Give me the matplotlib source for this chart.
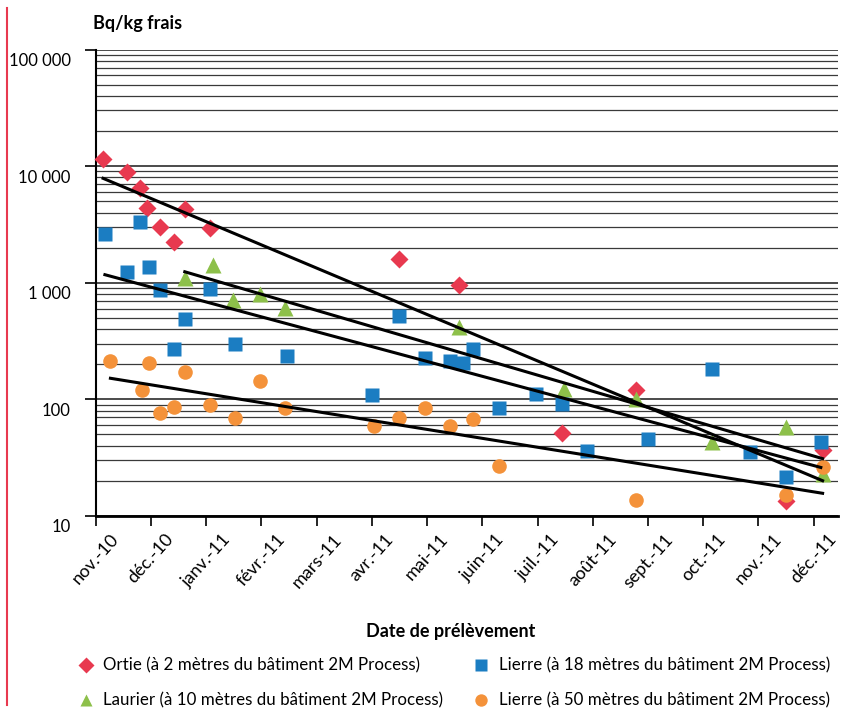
import numpy as np
import pandas as pd
import matplotlib
matplotlib.use("Agg")
import matplotlib.pyplot as plt
from matplotlib.ticker import FixedLocator, NullFormatter
from matplotlib.lines import Line2D
from matplotlib.transforms import ScaledTranslation

plt.rcParams['font.family'] = ['Lato', 'DejaVu Sans']

# ---------------- data ----------------
month_labels = ["nov.-10", "déc.-10", "janv.-11", "févr.-11", "mars-11", "avr.-11", "mai-11",
                "juin-11", "juil.-11", "août-11", "sept.-11", "oct.-11", "nov.-11", "déc.-11"]
ytick_values = [10, 100, 1000, 10000, 100000]
ytick_labels = ["10", "100", "1 000", "10 000", "100 000"]

ortie_dates = ["2010-11-05", "2010-11-18", "2010-11-25", "2010-11-29", "2010-12-06", "2010-12-14",
               "2010-12-20", "2011-01-03", "2011-04-16", "2011-05-19", "2011-07-15", "2011-08-25",
               "2011-11-16", "2011-12-06"]
ortie_vals = [11400, 8850, 6450, 4350, 3020, 2220, 4270, 2930, 1585, 950, 51, 120, 13.5, 37]

laurier_dates = ["2010-12-20", "2011-01-05", "2011-01-16", "2011-01-31", "2011-02-13", "2011-05-19",
                 "2011-07-16", "2011-08-25", "2011-10-06", "2011-11-16", "2011-12-06"]
laurier_vals = [1090, 1420, 710, 800, 610, 414, 122, 100, 43, 58, 23]

lierre18_dates = ["2010-11-06", "2010-11-18", "2010-11-25", "2010-11-30", "2010-12-06", "2010-12-14",
                  "2010-12-20", "2011-01-03", "2011-01-17", "2011-02-14", "2011-04-01", "2011-04-16",
                  "2011-04-30", "2011-05-14", "2011-05-21", "2011-05-27", "2011-06-10", "2011-06-30",
                  "2011-07-15", "2011-07-29", "2011-09-01", "2011-10-06", "2011-10-27", "2011-11-16",
                  "2011-12-05"]
lierre18_vals = [2600, 1230, 3300, 1365, 860, 268, 485, 890, 296, 234, 108, 515,
                 228, 212, 204, 270, 85, 112, 92, 36, 46, 183, 35.5, 21.4, 43]

lierre50_dates = ["2010-11-09", "2010-11-26", "2010-11-30", "2010-12-06", "2010-12-14", "2010-12-20",
                  "2011-01-03", "2011-01-17", "2011-01-31", "2011-02-13", "2011-04-02", "2011-04-16",
                  "2011-04-30", "2011-05-14", "2011-05-27", "2011-06-10", "2011-08-25", "2011-11-16",
                  "2011-12-06"]
lierre50_vals = [213, 120, 205, 77, 86.5, 171, 89, 69, 143, 85, 59, 69,
                 85, 59, 68, 27, 13.7, 15.2, 26.4]

series_labels = ["Ortie (à 2 mètres du bâtiment 2M Process)",
                 "Laurier (à 10 mètres du bâtiment 2M Process)",
                 "Lierre (à 18 mètres du bâtiment 2M Process)",
                 "Lierre (à 50 mètres du bâtiment 2M Process)"]


def to_month_pos(dates):
    d = pd.to_datetime(pd.Series(dates))
    idx = (d.dt.year - 2010) * 12 + d.dt.month - 11
    return (idx + (d.dt.day - 1) / d.dt.days_in_month).to_numpy(dtype=float)


W, H = 846, 713
fig = plt.figure(figsize=(W / 100, H / 100), dpi=100)
ax = fig.add_axes([95.7 / W, 1 - 516 / H, (838 - 95.7) / W, (516 - 49.5) / H])

ax.set_yscale('log')
ax.set_ylim(10, 100000)
ax.set_xlim(0, 13.44)

ax.yaxis.set_major_locator(FixedLocator(ytick_values))
ax.set_yticklabels(ytick_labels)
minor = [m * 10 ** e for e in range(1, 5) for m in range(2, 10)]
ax.yaxis.set_minor_locator(FixedLocator(minor))
ax.yaxis.set_minor_formatter(NullFormatter())
ax.grid(True, which='major', axis='y', color='#1a1a1a', lw=1.1)
ax.grid(True, which='minor', axis='y', color='#3a3a3a', lw=0.9)
ax.tick_params(axis='y', which='minor', length=0)
ax.tick_params(axis='y', which='major', length=8, width=1.2, labelsize=12, pad=10)
ax.set_axisbelow(True)
# labels sit slightly below their grid lines in the reference
shift = ScaledTranslation(0, -0.10, fig.dpi_scale_trans)
for lbl in ax.get_yticklabels():
    lbl.set_transform(lbl.get_transform() + shift)

ax.set_xticks(np.arange(len(month_labels)))
ax.set_xticklabels(month_labels, rotation=48, ha='center', va='top', fontsize=13)
ax.tick_params(axis='x', length=7, width=1.2, pad=4)

for s in ['top', 'right']:
    ax.spines[s].set_visible(False)
ax.spines['left'].set_linewidth(1.5)
ax.spines['bottom'].set_linewidth(2)

colors = {"ortie": "#E8394F", "laurier": "#8DC04A", "l18": "#1B7DC2", "l50": "#F4923A"}

series = [
    (ortie_dates, ortie_vals, 'D', colors["ortie"], 9.5, series_labels[0]),
    (laurier_dates, laurier_vals, '^', colors["laurier"], 11, series_labels[1]),
    (lierre18_dates, lierre18_vals, 's', colors["l18"], 10, series_labels[2]),
    (lierre50_dates, lierre50_vals, 'o', colors["l50"], 10.5, series_labels[3]),
]

# legend positions (figure pixels): marker x, text x, row y
legend_pos = [(86, 103, 665), (86, 103, 700), (481, 499, 665), (481, 499, 700)]

for (dates, vals, mk, col, ms, lab), (mx, tx, ly) in zip(series, legend_pos):
    x = to_month_pos(dates)
    y = np.asarray(vals, dtype=float)
    ax.plot(x, y, ls='none', marker=mk, color=col, ms=ms, mec='none', zorder=3, clip_on=False)
    # exponential trend line (least squares on log values)
    k, b = np.polyfit(x, np.log10(y), 1)
    xs = np.array([x.min(), x.max()])
    ax.plot(xs, 10 ** (k * xs + b), color='black', lw=2.2, zorder=4)
    fig.add_artist(Line2D([mx / W], [1 - ly / H], ls='none', marker=mk, color=col,
                          ms=ms * 0.85, mec='none'))
    fig.text(tx / W, 1 - ly / H, lab, fontsize=12.2, va='center', ha='left')

fig.text(451 / W, 1 - 631 / H, "Date de prélèvement", fontsize=13, fontweight='bold',
         ha='center', va='center')
fig.text(93 / W, 1 - 24 / H, "Bq/kg frais", fontsize=13, fontweight='bold', va='center', ha='left')

# red page border on the left
fig.add_artist(Line2D([7 / W, 7 / W], [1 - 8 / H, 1 - 705 / H], color='#E8394F', lw=1.5))

fig.savefig("out.png", dpi=100)
